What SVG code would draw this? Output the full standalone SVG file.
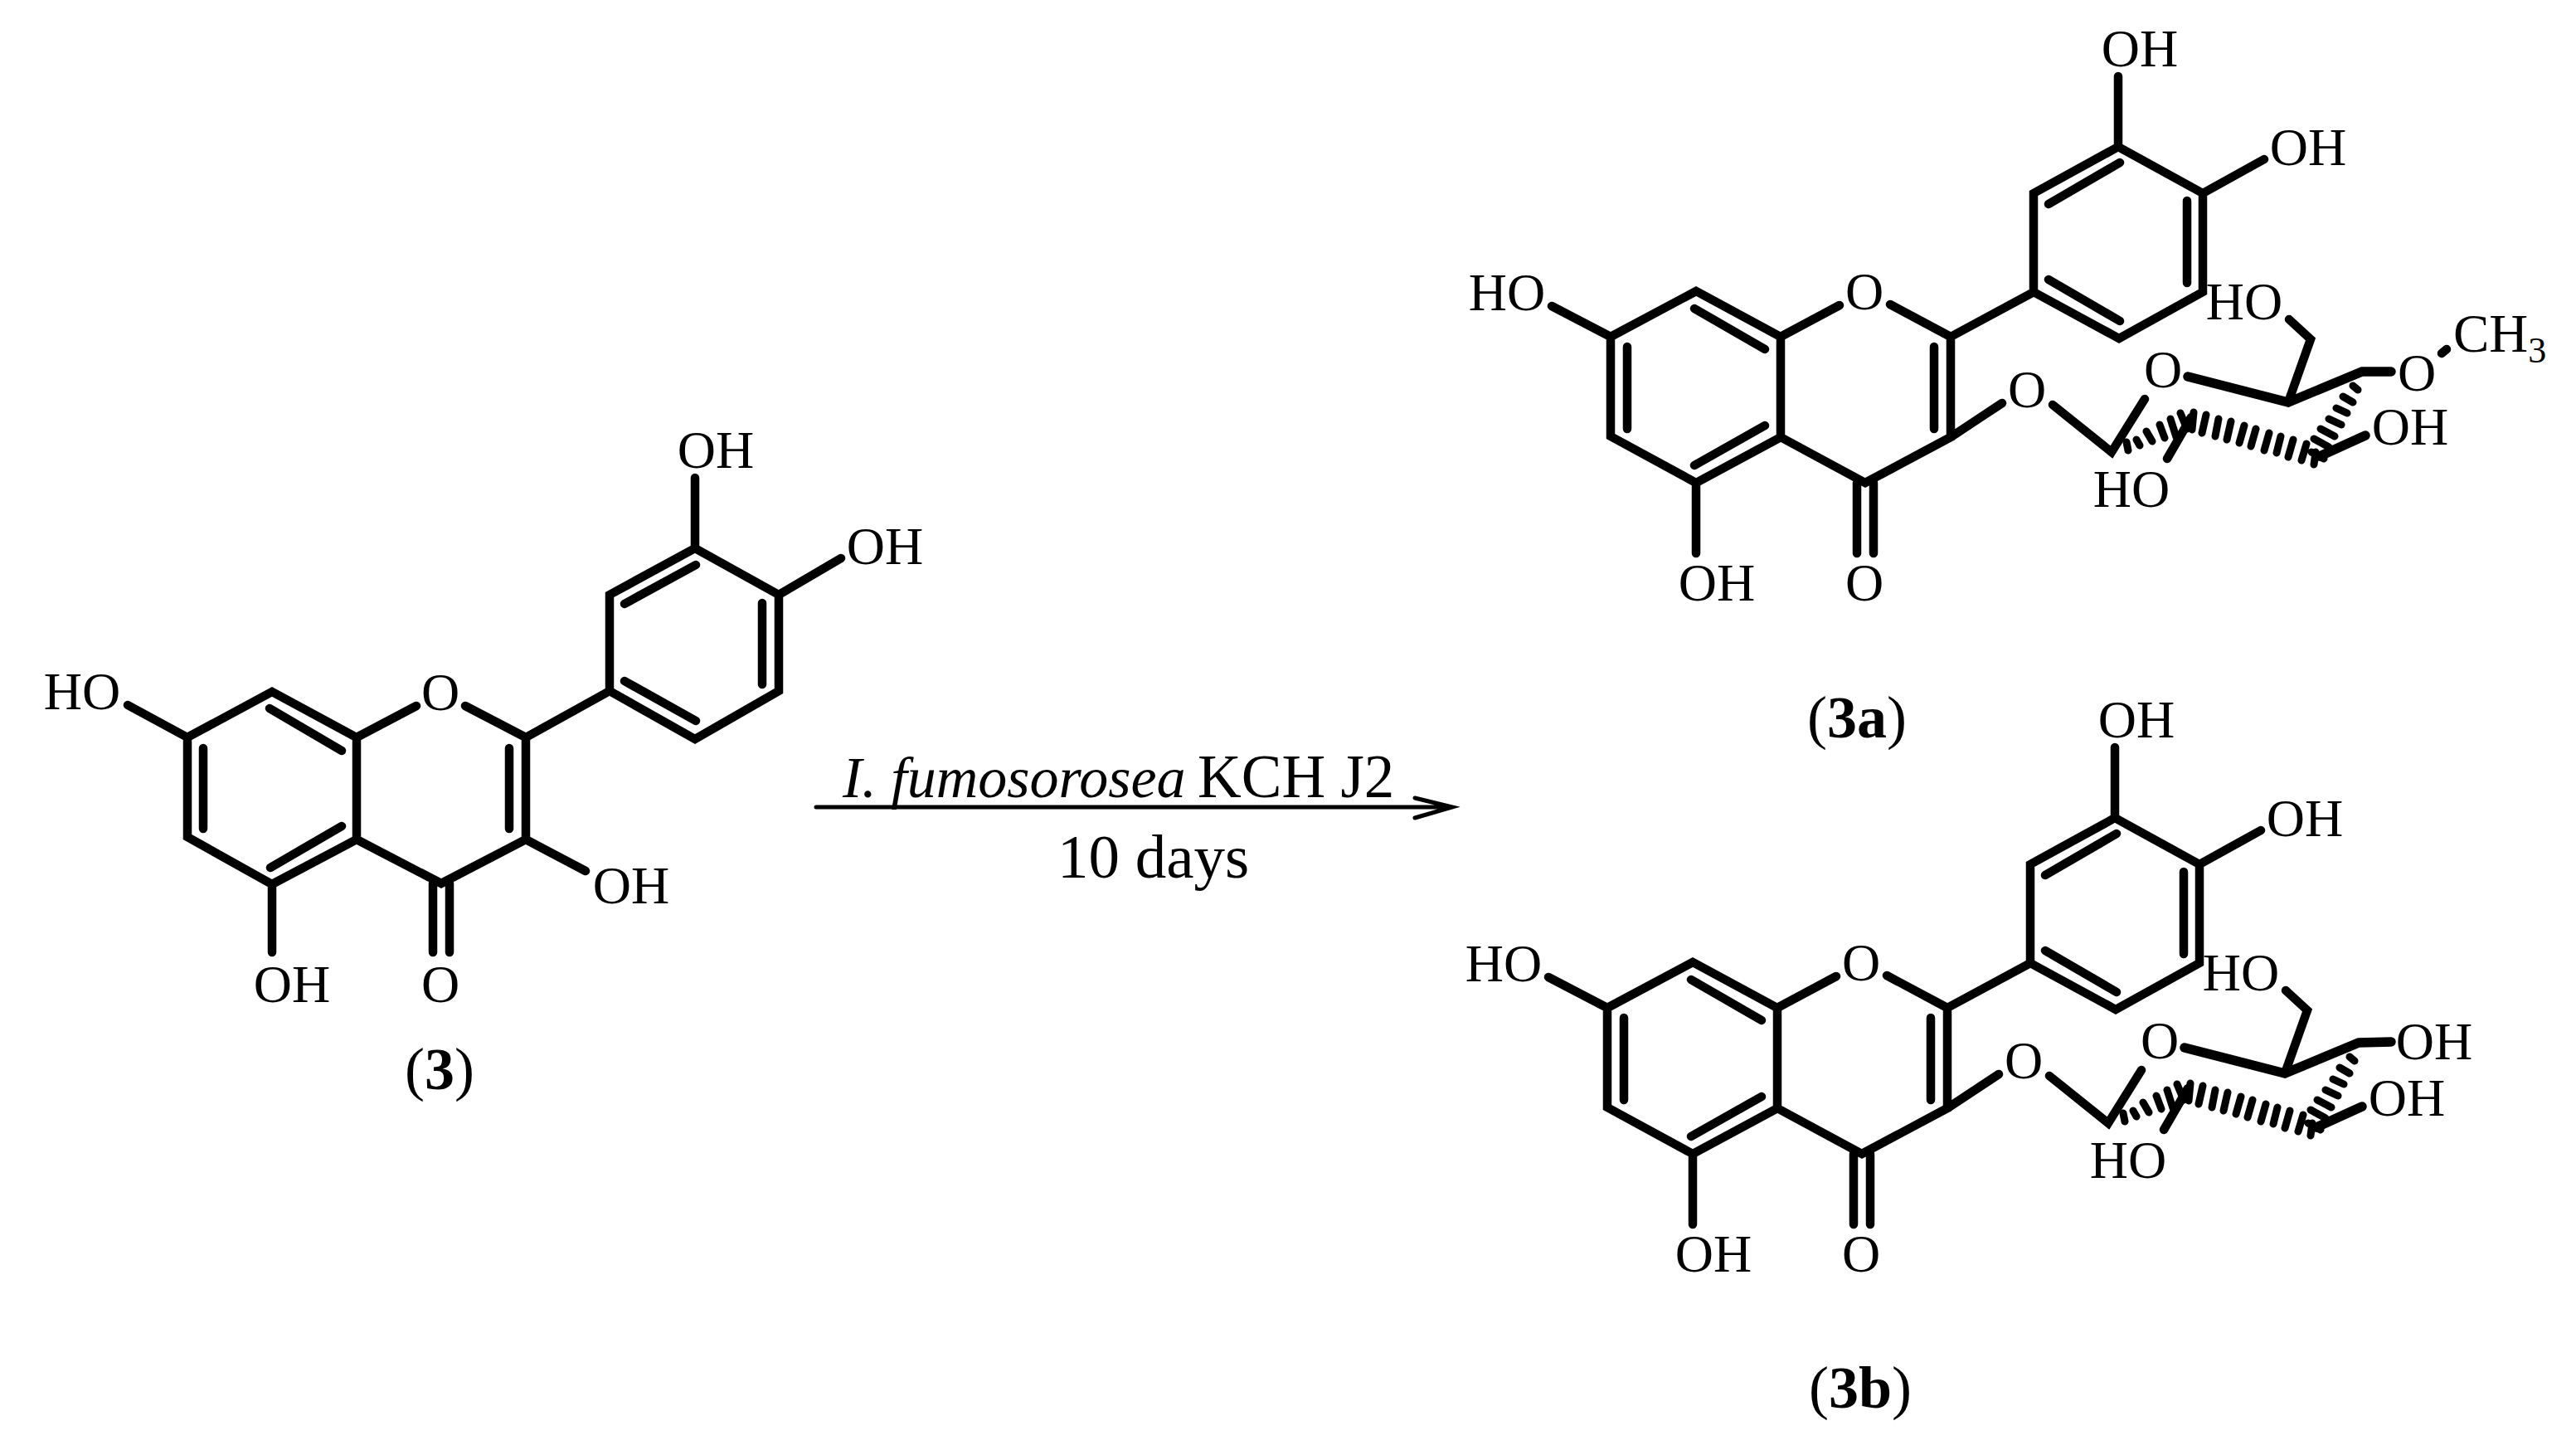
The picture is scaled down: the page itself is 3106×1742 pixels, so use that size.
<svg xmlns="http://www.w3.org/2000/svg" width="3106" height="1742" viewBox="0 0 3106 1742">
<style>
.b{fill:none;stroke:#000;stroke-width:10.5;stroke-linecap:round;stroke-linejoin:miter}
.w{fill:none;stroke:#000;stroke-width:11.5;stroke-linecap:round;stroke-linejoin:miter}
.h{fill:none;stroke:#000;stroke-width:9;stroke-linecap:round}
text{font-family:"Liberation Serif","Times New Roman",serif;fill:#000}
.l{font-size:64px;text-anchor:middle}
.c{font-size:72px;text-anchor:middle}
.bd{font-weight:bold}
.i{font-style:italic}
</style>
<rect width="3106" height="1742" fill="#fff"/>
<g id="compound-3">
<path class="b" d="M502 851L430 889L328 834L226 889V1009L328 1066L430 1012V889M561 851L634 889V1012L532 1065L430 1012M634 889L735 833V717L838 661L939 717V833L838 891L735 833M838 661V576M939 717L1014 673M226 889L154 850M634 1012L706 1050M328 1066V1148M522 1065V1148M542 1065V1148M245 902V999M325 854L412 905M412 996L326 1046M614 902V999M753 728L839 681M919 727V825M753 821L839 869"/>
<text class="l" x="863" y="564">OH</text>
<text class="l" x="1067" y="680">OH</text>
<text class="l" x="99" y="855">HO</text>
<text class="l" x="531" y="856">O</text>
<text class="l" x="761" y="1089">OH</text>
<text class="l" x="352" y="1208">OH</text>
<text class="l" x="531" y="1208">O</text>
<text class="c" x="530" y="1313">(<tspan class="bd">3</tspan>)</text>
</g>
<g id="compound-3a">
<path class="b" d="M2218 368L2147 406L2045 351L1942 406V526L2045 582L2147 527V406M2279 367L2352 406V527L2249 582L2147 527M2352 406L2452 352V233L2554 177L2656 233V352L2555 408L2452 352M2554 177V92M2656 233L2730 192M1942 406L1871 369M2045 582V667M2239 582V667M2259 582V667M1962 418V517M2043 372L2128 421M2128 513L2043 561M2332 418V517M2470 246L2556 196M2637 242V341M2470 337L2556 387M2352 527L2414 486M2475 488L2546 545L2586 481M2760 385L2786 409L2759 485M2642 503L2613 553"/>
<path class="w" d="M2638 454L2759 485L2848 448L2883 448M2797 550L2852 525"/>
<path class="h" d="M2564 533L2566 543M2576 530L2580 537M2588 520L2595 532M2604 512L2610 528M2617 505L2624 527M2629 498L2637 517M2645 497L2643 518M2660 500L2655 522M2675 505L2671 526M2690 508L2685 530M2706 513L2700 534M2720 517L2714 538M2736 522L2730 543M2750 526L2745 546M2765 530L2759 551M2781 535L2775 555M2792 545L2790 560M2837 465L2843 470M2825 478L2837 485M2817 492L2830 498M2808 505L2823 512M2798 517L2815 526M2790 529L2808 539M2787 545L2802 553"/>
<path class="b" d="M2944 426L2950 421"/>
<text class="l" x="2580" y="80">OH</text>
<text class="l" x="2783" y="199">OH</text>
<text class="l" x="1817" y="374">HO</text>
<text class="l" x="2248" y="373">O</text>
<text class="l" x="2070" y="724">OH</text>
<text class="l" x="2248" y="724">O</text>
<text class="l" x="2444" y="491">O</text>
<text class="l" x="2608" y="467">O</text>
<text class="l" x="2706" y="385">HO</text>
<text class="l" x="2914" y="471">O</text>
<text class="l" x="2906" y="536">OH</text>
<text class="l" x="2570" y="611">HO</text>
<text x="2958" y="424" font-size="65">CH<tspan font-size="44" dy="13">3</tspan></text>
<text class="c" x="2239" y="889">(<tspan class="bd">3a</tspan>)</text>
</g>
<g id="compound-3b" transform="translate(-4 809)">
<path class="b" d="M2218 368L2147 406L2045 351L1942 406V526L2045 582L2147 527V406M2279 367L2352 406V527L2249 582L2147 527M2352 406L2452 352V233L2554 177L2656 233V352L2555 408L2452 352M2554 177V92M2656 233L2730 192M1942 406L1871 369M2045 582V667M2239 582V667M2259 582V667M1962 418V517M2043 372L2128 421M2128 513L2043 561M2332 418V517M2470 246L2556 196M2637 242V341M2470 337L2556 387M2352 527L2414 486M2475 488L2546 545L2586 481M2760 385L2786 409L2759 485M2642 503L2613 553"/>
<path class="w" d="M2638 454L2759 485L2848 448L2887 447M2797 550L2852 525"/>
<path class="h" d="M2564 533L2566 543M2576 530L2580 537M2588 520L2595 532M2604 512L2610 528M2617 505L2624 527M2629 498L2637 517M2645 497L2643 518M2660 500L2655 522M2675 505L2671 526M2690 508L2685 530M2706 513L2700 534M2720 517L2714 538M2736 522L2730 543M2750 526L2745 546M2765 530L2759 551M2781 535L2775 555M2792 545L2790 560M2837 465L2843 470M2825 478L2837 485M2817 492L2830 498M2808 505L2823 512M2798 517L2815 526M2790 529L2808 539M2787 545L2802 553"/>
<text class="l" x="2580" y="80">OH</text>
<text class="l" x="2783" y="199">OH</text>
<text class="l" x="1817" y="374">HO</text>
<text class="l" x="2248" y="373">O</text>
<text class="l" x="2070" y="724">OH</text>
<text class="l" x="2248" y="724">O</text>
<text class="l" x="2444" y="491">O</text>
<text class="l" x="2608" y="467">O</text>
<text class="l" x="2706" y="385">HO</text>
<text class="l" x="2939" y="468">OH</text>
<text class="l" x="2906" y="536">OH</text>
<text class="l" x="2570" y="611">HO</text>
<text class="c" x="2247" y="888">(<tspan class="bd">3b</tspan>)</text>
</g>
<g id="connectors">
<path d="M984 973H1751M1706 962L1751 973L1706 986" fill="none" stroke="#000" stroke-width="5" stroke-linecap="round"/>
</g>
<g id="reaction-label">
<text x="1016" y="961" font-size="70" class="i">I. fumosorosea</text>
<text x="1444" y="961" font-size="73">KCH J2</text>
<text x="1275" y="1058" font-size="75">10 days</text>
</g>
</svg>
